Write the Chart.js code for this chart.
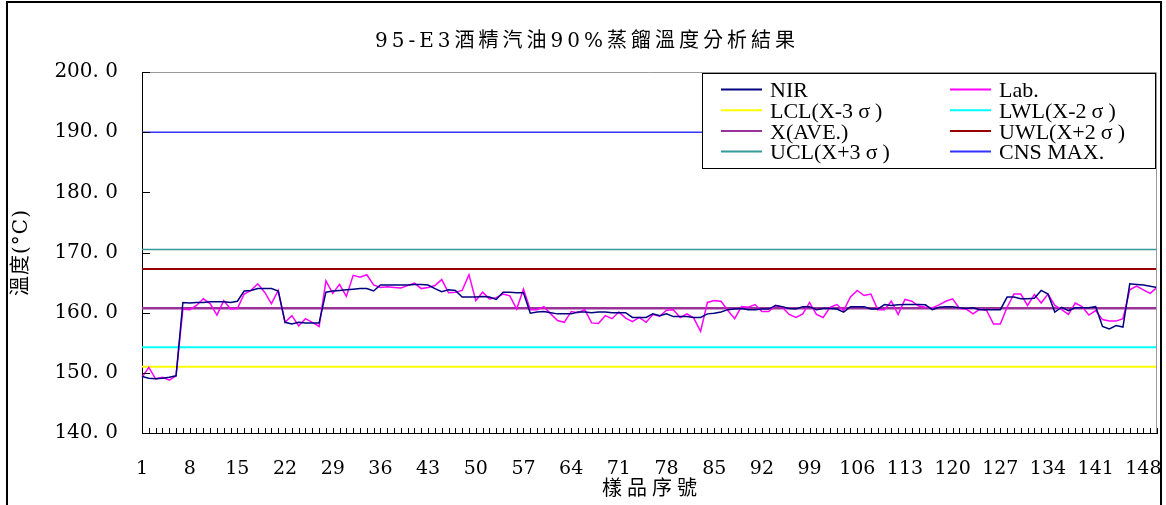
<!DOCTYPE html>
<html>
<head>
<meta charset="utf-8">
<script src="https://cdn.jsdelivr.net/npm/chart.js@4.4.1/dist/chart.umd.min.js"></script>
<style>
  html, body { margin: 0; padding: 0; background: #fff; overflow: hidden; }
  #wrap { position: relative; width: 1166px; height: 505px; overflow: hidden; }
  #chart { position: absolute; left: 0; top: 0; }
  #frame { position: absolute; left: 6px; top: 1px; width: 1156px; height: 530px;
           border: 2px solid #000; box-sizing: border-box; pointer-events: none; }
</style>
</head>
<body>
<div id="wrap">
  <canvas id="chart" width="1166" height="505"></canvas>
  <div id="frame"></div>
</div>
<script>
// sample numbers 1..150
const sampleNo = Array.from({ length: 150 }, (_, i) => String(i + 1));
const xTickLabels = ['1', '8', '15', '22', '29', '36', '43', '50', '57', '64', '71', '78', '85', '92',
  '99', '106', '113', '120', '127', '134', '141', '148'];
const yTickValues = [140, 150, 160, 170, 180, 190, 200];

const nirValues = [
  149.4, 149.1, 149.0, 149.1, 149.25, 149.5, 161.7, 161.6, 161.7, 161.7,
  161.8, 161.8, 161.8, 161.7, 161.9, 163.6, 163.7, 164.0, 164.0, 164.0,
  163.6, 158.4, 158.1, 158.4, 158.3, 158.3, 158.3, 163.4, 163.6, 163.7,
  163.8, 163.9, 164.0, 164.0, 163.6, 164.6, 164.6, 164.6, 164.6, 164.6,
  164.7, 164.7, 164.6, 164.0, 163.5, 163.8, 163.7, 162.6, 162.6, 162.6,
  162.7, 162.6, 162.2, 163.4, 163.4, 163.3, 163.3, 159.9, 160.1, 160.2,
  160.0, 159.8, 159.8, 159.8, 160.1, 160.1, 160.0, 160.1, 160.1, 160.0,
  160.0, 160.0, 159.2, 159.2, 159.2, 159.8, 159.5, 159.8, 159.35, 159.35,
  159.35, 159.2, 159.2, 159.8, 159.9, 160.1, 160.5, 160.6, 160.7, 160.5,
  160.5, 160.6, 160.6, 161.2, 161.0, 160.7, 160.6, 161.0, 161.0, 160.5,
  160.7, 160.7, 160.6, 160.1, 161.0, 161.0, 161.0, 160.6, 160.6, 161.35,
  161.2, 161.3, 161.35, 161.35, 161.35, 161.3, 160.5, 160.9, 161.0, 161.0,
  160.8, 160.7, 160.8, 160.5, 160.5, 160.5, 160.5, 162.6, 162.6, 162.3,
  162.3, 162.4, 163.7, 163.1, 160.1, 160.9, 160.35, 160.8, 160.8, 160.8,
  161.0, 157.7, 157.3, 157.85, 157.6, 164.8, 164.7, 164.6, 164.4, 164.2
];

const labValues = [
  149.25, 150.9, 149.0, 149.25, 148.8, 149.5, 160.6, 160.5, 161.2, 162.3,
  161.5, 159.6, 162.0, 160.6, 160.7, 163.1, 163.7, 164.8, 163.4, 161.5,
  163.7, 158.4, 159.5, 157.8, 159.0, 158.4, 157.7, 165.3, 163.2, 164.7,
  162.7, 166.2, 165.9, 166.3, 164.6, 164.2, 164.3, 164.2, 164.1, 164.5,
  164.9, 164.0, 164.2, 164.5, 165.5, 163.3, 163.4, 163.7, 166.3, 162.0,
  163.4, 162.3, 162.5, 163.1, 162.8, 160.6, 163.9, 160.5, 160.5, 161.0,
  159.8, 158.7, 158.4, 160.2, 160.0, 160.5, 158.3, 158.2, 159.5, 159.0,
  160.1, 159.1, 158.5, 159.2, 158.4, 159.7, 159.4, 160.4, 160.5, 159.2,
  159.8, 159.1, 156.9, 161.7, 162.0, 161.9, 160.35, 159.0, 161.0, 160.9,
  161.35, 160.2, 160.2, 161.2, 160.9, 159.7, 159.2, 159.8, 161.7, 159.7,
  159.2, 160.9, 161.35, 160.35, 162.6, 163.7, 162.85, 163.1, 160.5, 160.5,
  161.9, 159.7, 162.2, 161.9, 161.1, 160.9, 160.8, 161.3, 161.9, 162.3,
  160.7, 160.6, 159.8, 160.6, 160.35, 158.1, 158.1, 160.9, 163.1, 163.1,
  161.2, 163.0, 161.6, 163.1, 161.2, 160.5, 159.7, 161.6, 161.0, 159.6,
  160.35, 158.85, 158.6, 158.6, 159.0, 163.8, 164.4, 163.8, 163.2, 164.2
];

// control limits (constant lines)
const lclValue = 151.0;
const lwlValue = 154.25;
const aveValue = 160.75;
const uwlValue = 167.25;
const uclValue = 170.5;
const cnsMaxValue = 190.0;

const seriesLabels = ['NIR', 'Lab.', 'LCL(X-3σ)', 'LWL(X-2σ)', 'X(AVE.)', 'UWL(X+2σ)', 'UCL(X+3σ)', 'CNS MAX.'];
const seriesColors = ['#000080', '#ff00ff', '#ffff00', '#00ffff', '#993399', '#990000', '#339999', '#3333ff'];
const seriesWidths = [1.5, 1.5, 2, 2, 2.5, 2, 1.5, 1.5];

const flat = v => sampleNo.map(() => v);
const seriesData = [nirValues, labValues, flat(lclValue), flat(lwlValue), flat(aveValue),
  flat(uwlValue), flat(uclValue), flat(cnsMaxValue)];

const SERIF = '"DejaVu Serif", serif';
const LEGEND_FONT = '22px "Liberation Serif", "Noto Sans CJK TC", serif';
const CJK_FONT = '"DejaVu Serif", "Noto Sans CJK TC", sans-serif';

function drawLegendLabel(ctx, text, x, y) {
  const parts = text.split('σ');
  let cx = x;
  parts.forEach((p, i) => {
    ctx.fillText(p, cx, y);
    cx += ctx.measureText(p).width;
    if (i < parts.length - 1) {
      const w = ctx.measureText('σ').width;
      ctx.fillText('σ', cx + (22 - w) / 2, y);
      cx += 22;
    }
  });
}

const chartDecor = {
  id: 'chartDecor',
  afterDraw(chart) {
    const { ctx, chartArea: a, scales: { x, y } } = chart;
    ctx.save();

    // plot frame top/right
    ctx.strokeStyle = '#9a9a9a';
    ctx.lineWidth = 1;
    ctx.beginPath();
    ctx.moveTo(a.left, a.top + 0.5);
    ctx.lineTo(a.right - 0.5, a.top + 0.5);
    ctx.lineTo(a.right - 0.5, a.bottom);
    ctx.stroke();

    // inner tick marks
    ctx.strokeStyle = '#000';
    ctx.beginPath();
    sampleNo.forEach((_, i) => {
      const px = Math.round(x.getPixelForValue(i)) + 0.5;
      ctx.moveTo(px, a.bottom);
      ctx.lineTo(px, a.bottom - 5);
    });
    yTickValues.forEach(v => {
      const py = Math.round(y.getPixelForValue(v)) + 0.5;
      ctx.moveTo(a.left, py);
      ctx.lineTo(a.left + 8, py);
    });
    ctx.stroke();

    // legend
    const lx = 702, ly = 73, lw = 453, lh = 95;
    ctx.fillStyle = '#fff';
    ctx.fillRect(lx, ly, lw, lh);
    ctx.strokeStyle = '#000';
    ctx.strokeRect(lx + 0.5, ly + 0.5, lw, lh);
    ctx.font = LEGEND_FONT;
    ctx.textBaseline = 'middle';
    ctx.textAlign = 'left';
    chart.data.datasets.forEach((ds, i) => {
      const col = i % 2, row = Math.floor(i / 2);
      const sx = col === 0 ? 721 : 950;
      const sy = 89.5 + row * 20.7;
      ctx.strokeStyle = ds.borderColor;
      ctx.lineWidth = 2;
      ctx.beginPath();
      ctx.moveTo(sx, sy);
      ctx.lineTo(sx + 41, sy);
      ctx.stroke();
      ctx.fillStyle = '#000';
      drawLegendLabel(ctx, ds.label, sx + 49, sy + 2);
    });

    // titles
    ctx.fillStyle = '#000';
    ctx.textAlign = 'center';
    ctx.textBaseline = 'middle';
    ctx.font = '20px ' + CJK_FONT;
    ctx.letterSpacing = '4px';
    ctx.fillText('95-E3酒精汽油90%蒸餾溫度分析結果', 587, 42);
    ctx.letterSpacing = '5px';
    ctx.fillText('樣品序號', 652, 490);
    ctx.letterSpacing = '1px';
    ctx.translate(22, 253);
    ctx.rotate(-Math.PI / 2);
    ctx.fillText('溫度(°C)', 0.5, 0);
    ctx.restore();
  }
};

new Chart(document.getElementById('chart'), {
  type: 'line',
  data: {
    labels: sampleNo,
    datasets: seriesLabels.map((label, i) => ({
      label: label,
      data: seriesData[i],
      borderColor: seriesColors[i],
      backgroundColor: seriesColors[i],
      borderWidth: seriesWidths[i],
      pointRadius: 0,
      tension: 0,
      fill: false
    }))
  },
  options: {
    responsive: false,
    animation: false,
    layout: { padding: { top: 72, left: 0, right: 9, bottom: 0 } },
    plugins: {
      legend: { display: false },
      title: { display: false },
      tooltip: { enabled: false }
    },
    scales: {
      x: {
        type: 'category',
        offset: false,
        grid: { display: false, drawTicks: false },
        border: { display: true, color: '#000', width: 1 },
        ticks: {
          autoSkip: false,
          maxRotation: 0,
          minRotation: 0,
          padding: 25,
          color: '#000',
          font: { family: SERIF, size: 19 },
          callback: function (value) {
            const lab = this.getLabelForValue(value);
            return xTickLabels.includes(lab) ? lab : '';
          }
        },
        afterFit: scale => {
          scale.height = 72;
          scale.paddingLeft = 0;
          scale.paddingRight = 0;
        }
      },
      y: {
        min: 140,
        max: 200,
        grid: { display: false, drawTicks: false },
        border: { display: true, color: '#000', width: 1 },
        afterBuildTicks: scale => { scale.ticks = yTickValues.map(v => ({ value: v })); },
        ticks: {
          padding: 24,
          color: '#000',
          font: { family: SERIF, size: 20 },
          callback: value => value.toFixed(1).replace('.', '. ')
        },
        afterFit: scale => { scale.width = 142; }
      }
    }
  },
  plugins: [chartDecor]
});
</script>
</body>
</html>
